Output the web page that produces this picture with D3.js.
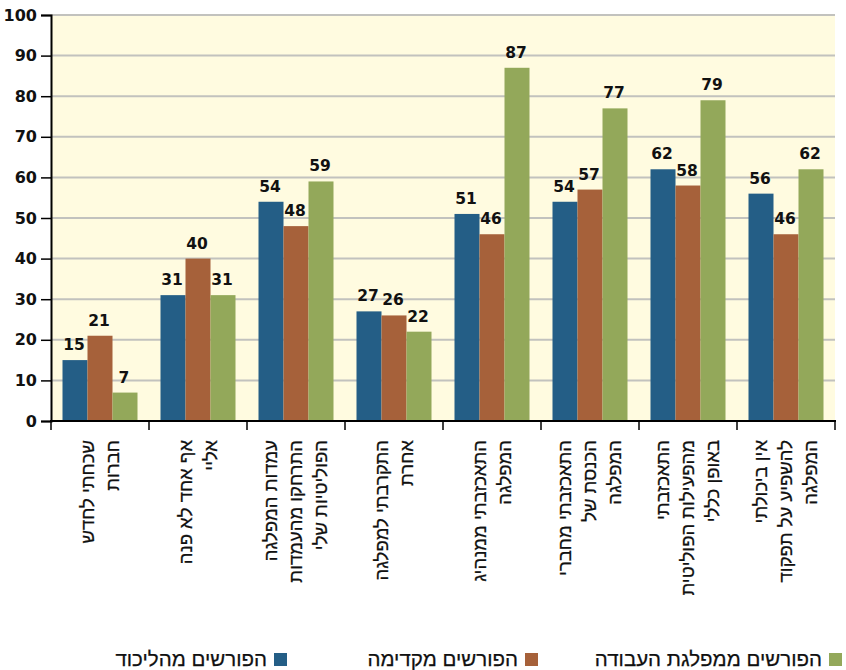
<!DOCTYPE html>
<html><head><meta charset="utf-8">
<script src="https://cdn.jsdelivr.net/npm/d3@7"></script>
<style>body{margin:0;background:#fff;} svg{display:block;}</style>
</head><body>
<svg id="c" width="846" height="670"></svg>
<script>
const categories = [
  ["שכחתי לחדש","חברות"],
  ["אף אחד לא פנה","אליי"],
  ["עמדות המפלגה","התרחקו מהעמדות","הפוליטיות שלי"],
  ["התקרבתי למפלגה","אחרת"],
  ["התאכזבתי ממנהיג","המפלגה"],
  ["התאכזבתי מחברי","הכנסת של","המפלגה"],
  ["התאכזבתי","מהפעילות הפוליטית","באופן כללי"],
  ["אין ביכולתי","להשפיע על תפקוד","המפלגה"]
];
const seriesNames = ["הפורשים מהליכוד","הפורשים מקדימה","הפורשים ממפלגת העבודה"];
const likud   = [15,31,54,27,51,54,62,56];
const kadima  = [21,40,48,26,46,57,58,46];
const avoda   = [7,31,59,22,87,77,79,62];
const yTicks  = [0,10,20,30,40,50,60,70,80,90,100];
const colors  = ["#245E86","#A6613A","#93A85A"];
const series = [likud,kadima,avoda];

const svg = d3.select("#c");
const L=51, R=835, T=15, B=421;
const x0 = d3.scaleBand().domain(d3.range(categories.length)).range([L,R]).padding(0);
const x1 = d3.scaleBand().domain([0,1,2]).range([0,x0.bandwidth()]).paddingInner(0).paddingOuter(0.46);
const y = d3.scaleLinear().domain([0,100]).range([B,T]);

svg.append("rect").attr("x",L).attr("y",T).attr("width",R-L).attr("height",B-T).attr("fill","#FFFBE0");
svg.append("g").selectAll("line").data(yTicks.filter(d=>d>0)).join("line")
  .attr("x1",L).attr("x2",R).attr("y1",d=>y(d)).attr("y2",d=>y(d))
  .attr("stroke","#C2C2BE").attr("stroke-width",2);

const g = svg.append("g");
categories.forEach((c,i)=>{
  series.forEach((s,j)=>{
    g.append("rect").attr("x",x0(i)+x1(j)).attr("y",y(s[i]))
     .attr("width",x1.bandwidth()).attr("height",B-y(s[i])).attr("fill",colors[j]);
    g.append("text").attr("x",x0(i)+x1(j)+x1.bandwidth()/2-1).attr("y",y(s[i])-10)
     .attr("text-anchor","middle").attr("font-family","DejaVu Sans").attr("font-weight","bold")
     .attr("font-size","15.5px").attr("fill","#111").text(s[i]);
  });
});

// y axis
const ya = svg.append("g").attr("transform",`translate(${L},0)`)
  .call(d3.axisLeft(y).tickValues(yTicks).tickSize(10).tickPadding(4));
ya.select(".domain").attr("stroke","#000").attr("stroke-width",2);
ya.selectAll(".tick line").attr("stroke","#000").attr("stroke-width",1.5);
ya.selectAll(".tick text").attr("font-family","DejaVu Sans").attr("font-weight","bold").attr("font-size","16px").attr("fill","#111");

// x axis
svg.append("line").attr("x1",L-1).attr("x2",R+1).attr("y1",B).attr("y2",B).attr("stroke","#000").attr("stroke-width",2);
const bounds = d3.range(categories.length+1).map(i=> i<categories.length? x0(i): x0(i-1)+x0.bandwidth());
svg.append("g").selectAll("line").data(bounds).join("line")
  .attr("x1",d=>d).attr("x2",d=>d).attr("y1",B).attr("y2",B+9).attr("stroke","#000").attr("stroke-width",1.5);

// category labels
categories.forEach((lines,i)=>{
  const cx = x0(i)+x0.bandwidth()/2;
  const t = svg.append("g").attr("transform",`translate(${cx},440) rotate(-90)`);
  lines.forEach((ln,k)=>{
    t.append("text").attr("x",0).attr("y",(k-(lines.length-1)/2)*25+6)
     .attr("text-anchor","end").attr("font-family","Liberation Sans, Arial").attr("font-size","18.5px")
     .attr("fill","#111").attr("stroke","#111").attr("stroke-width",0.25).text(ln);
  });
});

// legend
const legX = [287,538,842];
seriesNames.forEach((n,j)=>{
  svg.append("rect").attr("x",legX[j]-13).attr("y",653).attr("width",13).attr("height",13).attr("fill",colors[j]);
  svg.append("text").attr("x",legX[j]-20).attr("y",666).attr("text-anchor","end")
    .attr("font-family","Liberation Sans, Arial").attr("font-size","20.5px").attr("fill","#111")
    .attr("stroke","#111").attr("stroke-width",0.25).text(n);
});
</script>
</body></html>
